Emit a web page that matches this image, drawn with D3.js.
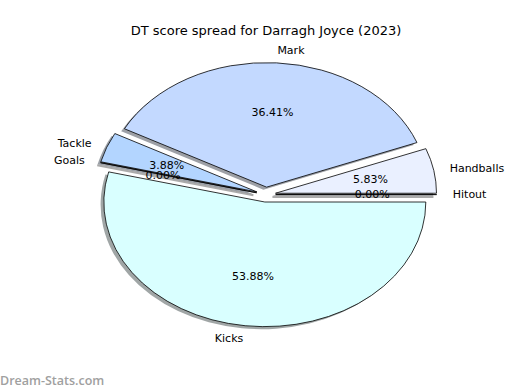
<!DOCTYPE html>
<html>
<head>
<meta charset="utf-8">
<script src="https://cdn.jsdelivr.net/npm/d3@7"></script>
<style>
  body { margin: 0; background: #fff; }
  svg text { font-family: "DejaVu Sans", sans-serif; }
</style>
</head>
<body>
<div id="chart"></div>
<script>
// DT points per stat, counterclockwise from 3 o'clock
var categories = ["Handballs", "Mark", "Tackle", "Goals", "Kicks", "Hitout"];
var values = [12, 75, 8, 0, 111, 0];
var colours = ["#eaf0ff", "#c3d9ff", "#b3d5ff", "#d9ffff", "#d9ffff", "#f0f0ff"];
var explode = [0.06, 0.06, 0.06, 0.06, 0.06, 0.06];

var width = 520, height = 390;
var cx = 266, cy = 194.6,     // pie centre
    rx = 161, ry = 124.5;     // axes are not equal, so the pie is an ellipse

var svg = d3.select("#chart").append("svg")
    .attr("width", width)
    .attr("height", height);

svg.append("text")
    .attr("x", 266)
    .attr("y", 30)
    .attr("dy", "0.35em")
    .attr("text-anchor", "middle")
    .style("font-size", "13px")
    .text("DT score spread for Darragh Joyce (2023)");

var colour = d3.scaleOrdinal().domain(categories).range(colours);

// matplotlib goes counterclockwise from 3 o'clock
var pie = d3.pie().sort(null)
    .startAngle(Math.PI / 2)
    .endAngle(Math.PI / 2 - 2 * Math.PI);
var arcs = pie(values);
var arc = d3.arc().innerRadius(0).outerRadius(1);

arcs.forEach(function(d, i) {
  var mid = (d.startAngle + d.endAngle) / 2;
  d.name = categories[i];
  d.ux = Math.sin(mid);
  d.uy = -Math.cos(mid);
  d.ox = cx + explode[i] * rx * d.ux;
  d.oy = cy + explode[i] * ry * d.uy;
});

// shadows first, under every wedge
svg.selectAll("path.shadow")
    .data(arcs)
  .enter().append("path")
    .attr("class", "shadow")
    .attr("transform", function(d) {
      return "translate(" + (d.ox - 0.02 * rx) + "," + (d.oy + 0.02 * ry) + ") scale(" + rx + "," + ry + ")";
    })
    .attr("d", arc)
    .attr("fill", function(d) {
      var c = d3.rgb(colour(d.name));
      return d3.rgb(c.r * 0.3, c.g * 0.3, c.b * 0.3);
    })
    .attr("fill-opacity", 0.5)
    .attr("stroke", function(d) { return d.value === 0 ? "#555" : "none"; })
    .attr("stroke-opacity", 0.5)
    .attr("stroke-width", 2)
    .attr("vector-effect", "non-scaling-stroke");

svg.selectAll("path.wedge")
    .data(arcs)
  .enter().append("path")
    .attr("class", "wedge")
    .attr("transform", function(d) {
      return "translate(" + d.ox + "," + d.oy + ") scale(" + rx + "," + ry + ")";
    })
    .attr("d", arc)
    .attr("fill", function(d) { return colour(d.name); })
    .attr("stroke", "#000")
    .attr("stroke-width", 0.8)
    .attr("stroke-linejoin", "round")
    .attr("vector-effect", "non-scaling-stroke");

// category labels at 1.1 r
svg.selectAll("text.label")
    .data(arcs)
  .enter().append("text")
    .attr("class", "label")
    .attr("x", function(d) { return d.ox + 1.1 * rx * d.ux; })
    .attr("y", function(d) { return d.oy + 1.1 * ry * d.uy; })
    .attr("dy", "0.35em")
    .attr("text-anchor", function(d) { return d.ux < 0 ? "end" : "start"; })
    .style("font-size", "11px")
    .text(function(d) { return d.name; });

// percentages at 0.6 r
var total = d3.sum(values);
svg.selectAll("text.pct")
    .data(arcs)
  .enter().append("text")
    .attr("class", "pct")
    .attr("x", function(d) { return d.ox + 0.6 * rx * d.ux; })
    .attr("y", function(d) { return d.oy + 0.6 * ry * d.uy; })
    .attr("dy", "0.35em")
    .attr("text-anchor", "middle")
    .style("font-size", "11px")
    .text(function(d) { return (100 * d.value / total).toFixed(2) + "%"; });

svg.append("text")
    .attr("x", 0)
    .attr("y", 385)
    .style("font-family", "'Open Sans', sans-serif")
    .style("font-weight", "600")
    .style("font-size", "12.5px")
    .attr("fill", "#a0a0a0")
    .text("Dream-Stats.com");
</script>
</body>
</html>
